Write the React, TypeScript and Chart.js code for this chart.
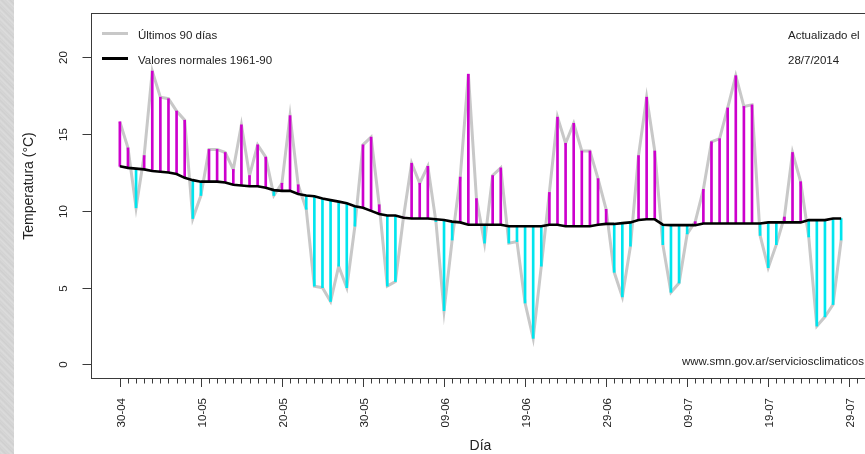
import React, { useEffect, useRef } from "react";
import { Chart, registerables } from "chart.js";

Chart.register(...registerables);

// Daily temperature, last 90 days (30-04 .. 28-07), °C
const actual: number[] = [
  15.8, 14.1, 10.2, 13.6, 19.1, 17.4, 17.3, 16.5, 15.9, 9.5,
  11.0, 14.0, 14.0, 13.8, 12.7, 15.6, 12.3, 14.3, 13.5, 11.0,
  11.8, 16.2, 11.7, 10.1, 5.1, 5.0, 4.1, 6.4, 5.0, 9.0,
  14.3, 14.8, 10.4, 5.1, 5.4, 9.6, 13.1, 11.8, 12.9, 9.3,
  3.5, 8.1, 12.2, 18.9, 10.8, 7.9, 12.3, 12.8, 7.9, 8.0,
  4.0, 1.7, 6.4, 11.2, 16.1, 14.4, 15.7, 13.9, 13.9, 12.1,
  10.1, 6.0, 4.4, 7.7, 13.6, 17.4, 13.9, 7.8, 4.7, 5.3,
  8.5, 9.3, 11.4, 14.5, 14.7, 16.7, 18.8, 16.8, 16.9, 8.4,
  6.3, 7.8, 9.6, 13.8, 11.9, 8.3, 2.5, 3.1, 3.9, 8.1,
];

// Normal values 1961-90
const normal: number[] = [
  12.9, 12.8, 12.75, 12.7, 12.6, 12.55, 12.5, 12.4, 12.15, 12.0,
  11.9, 11.9, 11.9, 11.85, 11.7, 11.65, 11.6, 11.6, 11.5, 11.35,
  11.3, 11.3, 11.1, 11.0, 10.95, 10.8, 10.7, 10.6, 10.5, 10.3,
  10.2, 10.0, 9.8, 9.7, 9.7, 9.55, 9.5, 9.5, 9.5, 9.45,
  9.4, 9.3, 9.25, 9.1, 9.1, 9.1, 9.1, 9.1, 9.0, 9.0,
  9.0, 9.0, 9.0, 9.1, 9.1, 9.0, 9.0, 9.0, 9.0, 9.1,
  9.15, 9.15, 9.2, 9.25, 9.4, 9.45, 9.45, 9.1, 9.07, 9.07,
  9.07, 9.07, 9.18, 9.18, 9.18, 9.18, 9.18, 9.18, 9.18, 9.18,
  9.25, 9.25, 9.25, 9.25, 9.25, 9.4, 9.4, 9.4, 9.5, 9.5,
];

const dayIndex: number[] = actual.map((_, i) => i);

const xTickDays: number[] = [0, 10, 20, 30, 40, 50, 60, 70, 80, 90];
const xTickLabels: string[] = [
  "30-04", "10-05", "20-05", "30-05", "09-06", "19-06", "29-06", "09-07", "19-07", "29-07",
];
const yTicks: number[] = [0, 5, 10, 15, 20];

const legendLabels: string[] = ["Últimos 90 días", "Valores normales 1961-90"];
const noteLines: string[] = ["Actualizado el", "28/7/2014"];
const sourceText = "www.smn.gov.ar/serviciosclimaticos";
const xTitle = "Día";
const yTitle = "Temperatura (°C)";

const FONT = '"Liberation Sans", Arial, sans-serif';
const MAGENTA = "#cd00cd";
const CYAN = "#00e5ee";
const GRAY = "#c8c8c8";

const decorPlugin = {
  id: "decor",
  afterDraw(chart: any) {
    const { ctx, chartArea: ca, scales } = chart;
    const x = scales.x;
    const y = scales.y;
    ctx.save();
    // box
    ctx.strokeStyle = "#3a3a3a";
    ctx.lineWidth = 1;
    const L = Math.round(ca.left) + 0.5;
    const T = Math.round(ca.top) + 0.5;
    const B = Math.round(ca.bottom) + 0.5;
    const R = Math.round(ca.right) + 0.5;
    ctx.strokeRect(L, T, R - L, B - T);

    ctx.fillStyle = "#222";
    ctx.font = `11.5px ${FONT}`;
    // y ticks
    for (const v of yTicks) {
      const py = Math.round(y.getPixelForValue(v)) + 0.5;
      ctx.beginPath();
      ctx.moveTo(L, py);
      ctx.lineTo(L - 9, py);
      ctx.stroke();
      ctx.save();
      ctx.translate(63.5, py);
      ctx.rotate(-Math.PI / 2);
      ctx.textAlign = "center";
      ctx.textBaseline = "middle";
      ctx.fillText(String(v), 0, 0);
      ctx.restore();
    }
    // x minor ticks (daily) and major ticks
    for (let d = 0; d <= 92; d++) {
      const px = Math.round(x.getPixelForValue(d)) + 0.5;
      const major = xTickDays.includes(d);
      ctx.beginPath();
      ctx.moveTo(px, B);
      ctx.lineTo(px, B + (major ? 8.5 : 5));
      ctx.stroke();
    }
    xTickDays.forEach((d, i) => {
      const px = x.getPixelForValue(d);
      ctx.save();
      ctx.translate(px + 1.5, 398);
      ctx.rotate(-Math.PI / 2);
      ctx.textAlign = "right";
      ctx.textBaseline = "middle";
      ctx.fillText(xTickLabels[i], 0, 0);
      ctx.restore();
    });
    // axis titles
    ctx.font = `14px ${FONT}`;
    ctx.textAlign = "center";
    ctx.textBaseline = "alphabetic";
    ctx.fillText(xTitle, (ca.left + ca.right) / 2, 450);
    ctx.save();
    ctx.translate(32.5, 186);
    ctx.rotate(-Math.PI / 2);
    ctx.textAlign = "center";
    ctx.textBaseline = "alphabetic";
    ctx.fillText(yTitle, 0, 0);
    ctx.restore();

    // legend
    ctx.lineCap = "butt";
    ctx.lineWidth = 3;
    ctx.strokeStyle = GRAY;
    ctx.beginPath();
    ctx.moveTo(102, 33.5);
    ctx.lineTo(128, 33.5);
    ctx.stroke();
    ctx.strokeStyle = "#000";
    ctx.beginPath();
    ctx.moveTo(102, 58.5);
    ctx.lineTo(128, 58.5);
    ctx.stroke();
    ctx.font = `11.5px ${FONT}`;
    ctx.textAlign = "left";
    ctx.textBaseline = "alphabetic";
    ctx.fillText(legendLabels[0], 138, 38.5);
    ctx.fillText(legendLabels[1], 138, 63.5);
    ctx.fillText(noteLines[0], 788, 38.5);
    ctx.fillText(noteLines[1], 788, 63.5);
    ctx.fillText(sourceText, 682, 365);
    ctx.restore();
  },
};

export default function App() {
  const ref = useRef<HTMLCanvasElement | null>(null);
  useEffect(() => {
    const canvas = ref.current;
    if (!canvas) return;
    const barColors = actual.map((v, i) => (v >= normal[i] ? MAGENTA : CYAN));
    const chart = new Chart(canvas, {
      type: "bar",
      data: {
        datasets: [
          {
            type: "line",
            label: legendLabels[1],
            data: dayIndex.map((d, i) => ({ x: d, y: normal[i] })),
            borderColor: "#000",
            borderWidth: 2.6,
            pointRadius: 0,
            tension: 0,
            order: 0,
          } as any,
          {
            type: "bar",
            label: "anomalía",
            data: dayIndex.map((d, i) => ({ x: d, y: [normal[i], actual[i]] })),
            backgroundColor: barColors,
            borderWidth: 0,
            barThickness: 2,
            order: 1,
          } as any,
          {
            type: "line",
            label: legendLabels[0],
            data: dayIndex.map((d, i) => ({ x: d, y: actual[i] })),
            borderColor: GRAY,
            borderWidth: 3,
            pointRadius: 0,
            tension: 0,
            order: 2,
          } as any,
        ],
      },
      options: {
        animation: false,
        responsive: false,
        devicePixelRatio: 1,
        layout: { padding: { left: 91, top: 13, right: 10, bottom: 76 } },
        plugins: {
          legend: { display: false },
          tooltip: { enabled: false },
          title: { display: false },
        },
        scales: {
          x: {
            type: "linear",
            min: -3.56,
            max: 92.56,
            offset: false,
            display: false,
            grid: { display: false, offset: false },
          },
          y: { type: "linear", min: -0.88, max: 22.88, display: false, grid: { display: false } },
        },
      },
      plugins: [decorPlugin],
    });
    return () => chart.destroy();
  }, []);

  return (
    <div
      style={{
        position: "absolute",
        left: 0,
        top: 0,
        width: 865,
        height: 454,
        overflow: "hidden",
        background: "#fff",
      }}
    >
      <canvas
        ref={ref}
        width={880}
        height={454}
        style={{ position: "absolute", left: 0, top: 0, width: 880, height: 454 }}
      />
      <div
        style={{
          position: "absolute",
          left: 0,
          top: 0,
          width: 14,
          height: 454,
          background: "repeating-linear-gradient(45deg, #d2d2d2 0px, #dcdcdc 2px, #cfcfcf 4px, #d8d8d8 6px)",
        }}
      />
    </div>
  );
}
